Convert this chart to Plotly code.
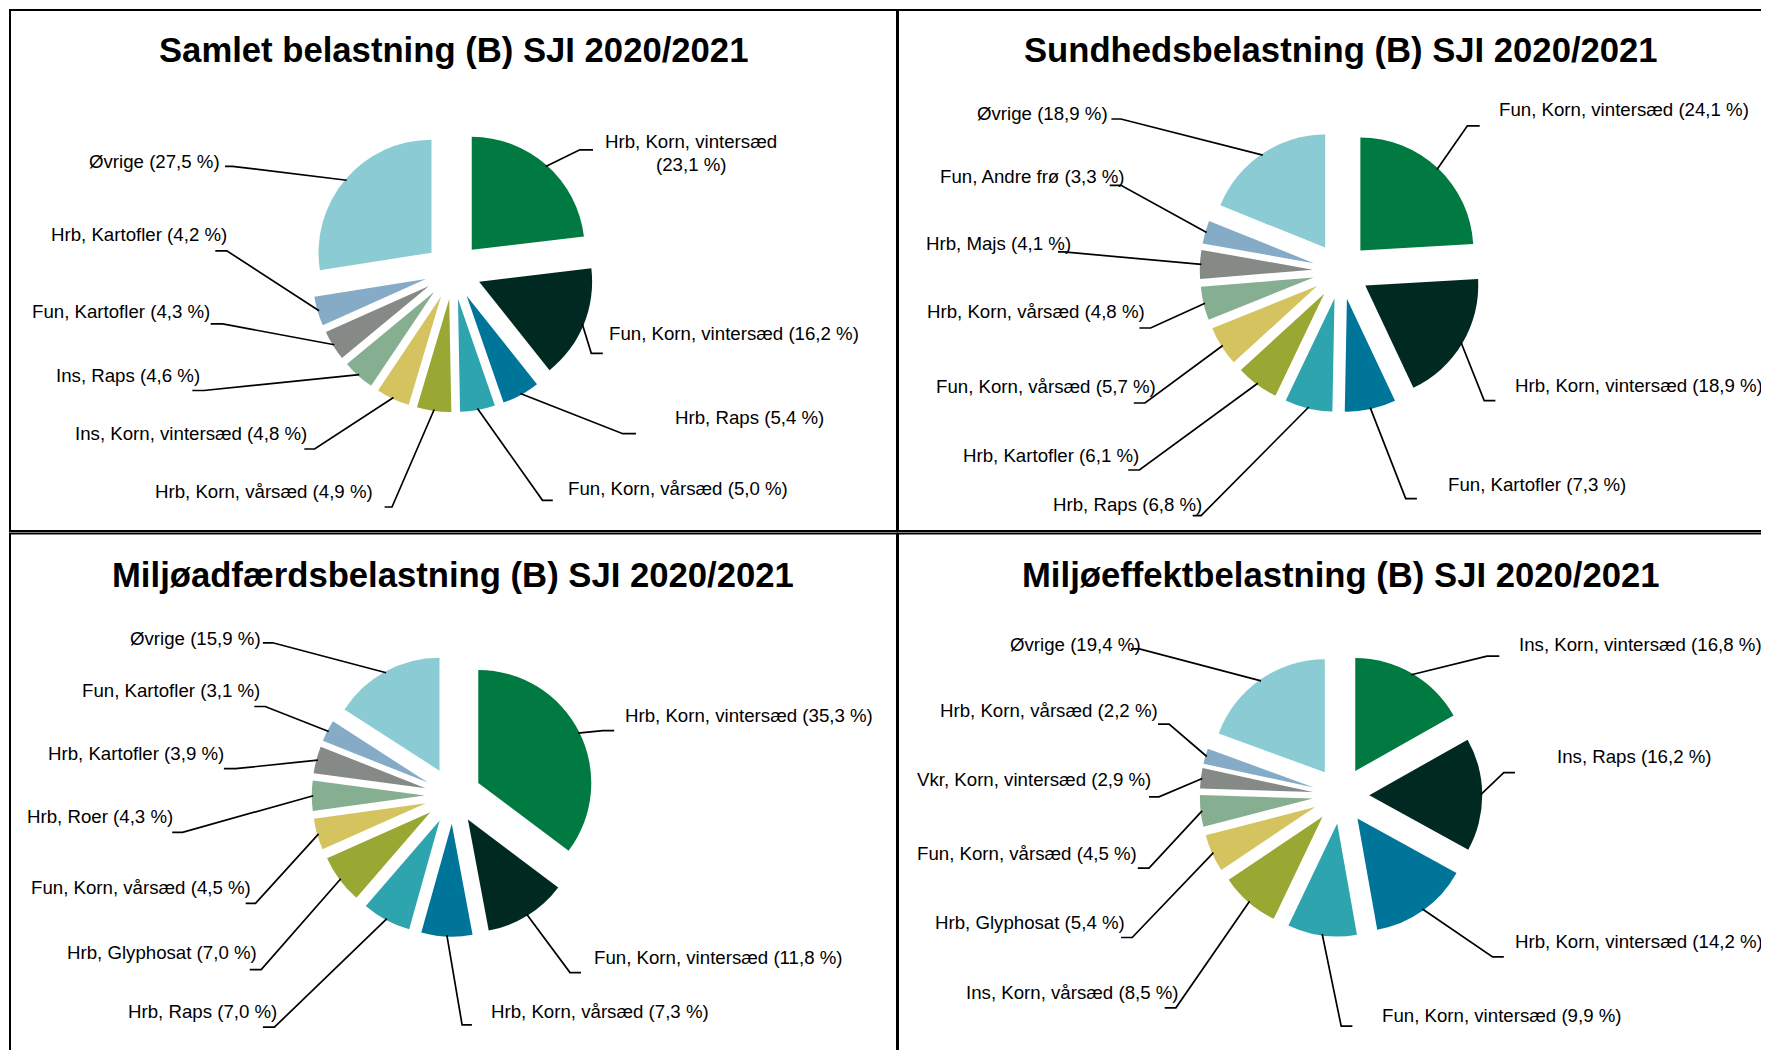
import math
import plotly.graph_objects as go

W, H = 1769, 1050
OFF = 8  # page body margin compensation (px)

# ---------------- data ----------------
titles = [
    "Samlet belastning (B) SJI 2020/2021",
    "Sundhedsbelastning (B) SJI 2020/2021",
    "Miljøadfærdsbelastning (B) SJI 2020/2021",
    "Miljøeffektbelastning (B) SJI 2020/2021",
]

cats_samlet = ["Hrb, Korn, vintersæd", "Fun, Korn, vintersæd", "Hrb, Raps", "Fun, Korn, vårsæd",
               "Hrb, Korn, vårsæd", "Ins, Korn, vintersæd", "Ins, Raps", "Fun, Kartofler",
               "Hrb, Kartofler", "Øvrige"]
vals_samlet = [23.1, 16.2, 5.4, 5.0, 4.9, 4.8, 4.6, 4.3, 4.2, 27.5]

cats_sundhed = ["Fun, Korn, vintersæd", "Hrb, Korn, vintersæd", "Fun, Kartofler", "Hrb, Raps",
                "Hrb, Kartofler", "Fun, Korn, vårsæd", "Hrb, Korn, vårsæd", "Hrb, Majs",
                "Fun, Andre frø", "Øvrige"]
vals_sundhed = [24.1, 18.9, 7.3, 6.8, 6.1, 5.7, 4.8, 4.1, 3.3, 18.9]

cats_adfaerd = ["Hrb, Korn, vintersæd", "Fun, Korn, vintersæd", "Hrb, Korn, vårsæd", "Hrb, Raps",
                "Hrb, Glyphosat", "Fun, Korn, vårsæd", "Hrb, Roer", "Hrb, Kartofler",
                "Fun, Kartofler", "Øvrige"]
vals_adfaerd = [35.3, 11.8, 7.3, 7.0, 7.0, 4.5, 4.3, 3.9, 3.1, 15.9]

cats_effekt = ["Ins, Korn, vintersæd", "Ins, Raps", "Hrb, Korn, vintersæd", "Fun, Korn, vintersæd",
               "Ins, Korn, vårsæd", "Hrb, Glyphosat", "Fun, Korn, vårsæd", "Vkr, Korn, vintersæd",
               "Hrb, Korn, vårsæd", "Øvrige"]
vals_effekt = [16.8, 16.2, 14.2, 9.9, 8.5, 5.4, 4.5, 2.9, 2.2, 19.4]

# ---------------- styles / layout ----------------
COLORS = ["#007A40", "#002A21", "#00759A", "#2EA4AE", "#99A833",
          "#D4C35E", "#86AE90", "#858A87", "#86ABC6", "#8BCCD4"]
FONT = "Liberation Sans, Arial, sans-serif"
CENTERS = [(453, 271), (1341, 271), (453, 795.5), (1341, 795.5)]
RADIUS = 113
PULL = 0.25
TITLE_Y = [50.5, 50.5, 575, 575]
LINE_GAP = 22.5

# label layout: (text x, text y, anchor, elbow x, elbow y, end x)  in pixels
LBL_samlet = [
    (691, 153, "center", 579.8, 149.8, 593),
    (608.5, 333.5, "left", 591.3, 353.3, 602.8),
    (674.5, 417.5, "left", 622.8, 433.7, 636),
    (568.3, 488.5, "left", 542.5, 500.3, 552.8),
    (373.1, 491.5, "right", 392, 507, 384.6),
    (307.1, 433.6, "right", 314.6, 449, 304.3),
    (199.8, 375.8, "right", 203.8, 390.5, 192.3),
    (209.5, 311, "right", 222.7, 323.9, 210.7),
    (226.8, 234.1, "right", 226.8, 250.8, 215.3),
    (220.4, 161.4, "right", 232.5, 166.3, 225),
]
LBL_sundhed = [
    (1499.3, 109.9, "left", 1467.4, 125.8, 1479.7),
    (1515, 385.9, "left", 1484.2, 400.6, 1495.4),
    (1447.7, 484, "left", 1405.7, 498.6, 1416.9),
    (1202.2, 504.6, "right", 1201.1, 515.6, 1192.7),
    (1139.4, 455.5, "right", 1139.4, 470, 1128.2),
    (1156.3, 386.2, "right", 1145, 403, 1133.8),
    (1145, 311, "right", 1150.6, 328, 1139.4),
    (1070.5, 243.2, "right", 1063.8, 251.9, 1058),
    (1125.4, 176.6, "right", 1121, 185.3, 1109.7),
    (1107.5, 114, "right", 1120.9, 119, 1111.4),
]
LBL_adfaerd = [
    (624.6, 715.8, "left", 602.8, 730.6, 614.2),
    (594.1, 957.4, "left", 570, 972.6, 581),
    (490.8, 1011.6, "left", 462.1, 1024.8, 471.9),
    (276.7, 1011.6, "right", 274.4, 1027.2, 262.9),
    (257.2, 952.7, "right", 261.2, 969.6, 249.7),
    (250.9, 887.1, "right", 255.5, 903.3, 245.7),
    (173.4, 816.8, "right", 182.5, 832.3, 172.2),
    (223.9, 753.5, "right", 235.4, 768.7, 223.9),
    (259.5, 690.7, "right", 265.2, 706.5, 254.3),
    (261.2, 638, "right", 272.7, 642.8, 262.9),
]
LBL_effekt = [
    (1518.9, 644.7, "left", 1487, 656.2, 1499.3),
    (1557, 756, "left", 1503.8, 772.7, 1515),
    (1515, 941, "left", 1492.6, 956.9, 1503.8),
    (1381.6, 1015, "left", 1341.2, 1026.2, 1352.4),
    (1178.7, 992, "right", 1175.9, 1007.8, 1164.7),
    (1125.4, 922.2, "right", 1132.2, 937.5, 1121),
    (1136.6, 853.6, "right", 1149, 868.2, 1137.8),
    (1150.7, 779.4, "right", 1159, 796.8, 1149),
    (1158, 710, "right", 1169.1, 724.2, 1158),
    (1141.1, 644.7, "right", 1139.4, 648.9, 1131),
]

charts = [
    (cats_samlet, vals_samlet, LBL_samlet),
    (cats_sundhed, vals_sundhed, LBL_sundhed),
    (cats_adfaerd, vals_adfaerd, LBL_adfaerd),
    (cats_effekt, vals_effekt, LBL_effekt),
]


def fx(x):
    return (x - OFF) / W


def fy(y):
    return 1 - (y - OFF) / H


def label(x, y, text, anchor):
    return dict(
        x=fx(x), y=fy(y), xref="paper", yref="paper", text=text,
        showarrow=False, xanchor=anchor, yanchor="middle", align="center",
        borderpad=0, borderwidth=0,
        font=dict(family=FONT, size=18.67, color="black"),
    )


fig = go.Figure()
shapes = []
annotations = []

for i, (cats, vals, lbls) in enumerate(charts):
    cx, cy = CENTERS[i]
    s = RADIUS * (1 + PULL)
    fig.add_trace(go.Pie(
        labels=cats, values=vals, sort=False, direction="clockwise", rotation=0,
        pull=[PULL] * len(vals),
        marker=dict(colors=COLORS, line=dict(width=0)),
        textinfo="none", hoverinfo="label+percent",
        domain=dict(x=[fx(cx - s), fx(cx + s)], y=[fy(cy + s), fy(cy - s)]),
        showlegend=False,
    ))
    # title
    annotations.append(dict(
        x=fx(cx), y=fy(TITLE_Y[i]), xref="paper", yref="paper",
        text="<b>" + titles[i] + "</b>", showarrow=False,
        xanchor="center", yanchor="middle", borderpad=0,
        font=dict(family=FONT, size=34.67, color="black"),
    ))
    total = sum(vals)
    cum = 0.0
    for j, (name, v) in enumerate(zip(cats, vals)):
        mid = (cum + v / 2) / total * 2 * math.pi
        cum += v
        rr = RADIUS * (1 + PULL) - 1.5
        sx = cx + rr * math.sin(mid)
        sy = cy - rr * math.cos(mid)
        tx, ty, anc, ex, ey, hx = lbls[j]
        pct = ("%.1f" % v).replace(".", ",")
        shapes.append(dict(
            type="path", xref="paper", yref="paper",
            path=f"M {fx(sx)},{fy(sy)} L {fx(ex)},{fy(ey)} L {fx(hx)},{fy(ey)}",
            line=dict(color="black", width=1.7),
        ))
        if anc == "center":
            annotations.append(label(tx, ty - LINE_GAP / 2, name, "center"))
            annotations.append(label(tx, ty + LINE_GAP / 2, f"({pct} %)", "center"))
        else:
            annotations.append(label(tx, ty, f"{name} ({pct} %)", anc))

# panel frames
for (x0, y0, x1, y1) in [(10, 10, 897, 531), (898, 10, 1800, 531),
                         (10, 533.5, 897, 1100), (898, 533.5, 1800, 1100)]:
    shapes.append(dict(type="rect", xref="paper", yref="paper",
                       x0=fx(x0), x1=fx(x1), y0=fy(y1), y1=fy(y0),
                       line=dict(color="black", width=2), fillcolor="rgba(0,0,0,0)"))

fig.update_layout(
    width=W, height=H,
    margin=dict(l=0, r=0, t=0, b=0),
    paper_bgcolor="white", plot_bgcolor="white",
    shapes=shapes, annotations=annotations,
    showlegend=False,
)

fig.write_html("out.html")
